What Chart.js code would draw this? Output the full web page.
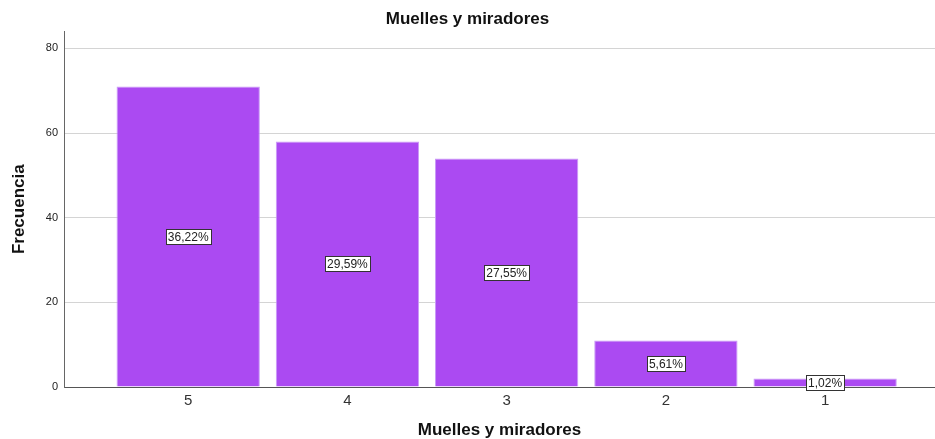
<!DOCTYPE html>
<html>
<head>
<meta charset="utf-8">
<script src="https://cdn.jsdelivr.net/npm/chart.js@4.4.1/dist/chart.umd.min.js"></script>
<style>
  html, body { margin: 0; padding: 0; background: #fff; }
  #wrap { width: 935px; height: 439px; }
</style>
</head>
<body>
<div id="wrap"><canvas id="graph_data" width="935" height="439"></canvas></div>
<script>
// data
var categories = ["5", "4", "3", "2", "1"];
var frecuencia = [71, 58, 54, 11, 2];
var porcentajes = ["36,22%", "29,59%", "27,55%", "5,61%", "1,02%"];
var yTicks = [0, 20, 40, 60, 80];

var barColor = "#ab4af2";
var font = "'Liberation Sans', Arial, sans-serif";

// white boxes with the percentage in the middle of each bar
var pctLabels = {
    id: "pctLabels",
    afterDatasetsDraw: function(chart){
        var ctx = chart.ctx;
        var meta = chart.getDatasetMeta(0);
        ctx.save();
        ctx.font = "12px " + font;
        ctx.textAlign = "center";
        ctx.textBaseline = "middle";
        meta.data.forEach(function(bar, i){
            var txt = porcentajes[i];
            var cy = (bar.y + bar.base) / 2;
            var w = Math.round(ctx.measureText(txt).width + 4);
            var h = 15;
            var x0 = Math.round(bar.x - w / 2) + 0.5;
            var y0 = Math.round(cy - h / 2) + 0.5;
            ctx.fillStyle = "#fff";
            ctx.fillRect(x0, y0, w, h);
            ctx.strokeStyle = "#333";
            ctx.lineWidth = 1;
            ctx.strokeRect(x0, y0, w, h);
            ctx.fillStyle = "#222";
            ctx.fillText(txt, bar.x, cy + 1);
        });
        ctx.restore();
    }
};

var points = frecuencia.map(function(v, i){ return {x: i, y: v}; });

new Chart(document.getElementById("graph_data"), {
    type: "bar",
    data: {
        datasets: [{
            data: points,
            backgroundColor: barColor,
            borderColor: "#c99af7",
            borderWidth: 1,
            barPercentage: 0.9,
            categoryPercentage: 1
        }]
    },
    options: {
        responsive: false,
        animation: false,
        layout: { padding: { left: 0, right: 0, top: 0, bottom: 0 } },
        plugins: {
            legend: { display: false },
            tooltip: { enabled: false },
            title: {
                display: true,
                text: "Muelles y miradores",
                color: "#111",
                font: { family: font, size: 17, weight: "bold" },
                padding: { top: 9, bottom: 2 }
            }
        },
        scales: {
            x: {
                type: "linear",
                offset: false,
                min: -0.78,
                max: 4.69,
                afterBuildTicks: function(scale){
                    scale.ticks = categories.map(function(c, i){ return {value: i}; });
                },
                afterFit: function(scale){ scale.height = 52; },
                ticks: {
                    callback: function(v){ return categories[v]; },
                    color: "#333",
                    font: { family: font, size: 15 },
                    padding: 5,
                    maxRotation: 0
                },
                grid: { display: false, drawTicks: false },
                border: { display: true, color: "#555", width: 1 },
                title: {
                    display: true,
                    text: "Muelles y miradores",
                    color: "#111",
                    font: { family: font, size: 17, weight: "bold" },
                    padding: { top: 0, bottom: -1.5 }
                }
            },
            y: {
                min: 0,
                max: 84,
                afterBuildTicks: function(scale){
                    scale.ticks = yTicks.map(function(v){ return {value: v}; });
                },
                afterFit: function(scale){ scale.width = 64; },
                ticks: {
                    color: "#222",
                    font: { family: font, size: 11 },
                    padding: 6
                },
                grid: { color: "#d4d4d4", drawTicks: false },
                border: { display: true, color: "#666", width: 1 },
                title: {
                    display: true,
                    text: "Frecuencia",
                    color: "#111",
                    font: { family: "'Liberation Sans Narrow', 'Liberation Sans', Arial, sans-serif", size: 17, weight: "bold" },
                    padding: { top: 9, bottom: 0 }
                }
            }
        }
    },
    plugins: [pctLabels]
});
</script>
</body>
</html>
